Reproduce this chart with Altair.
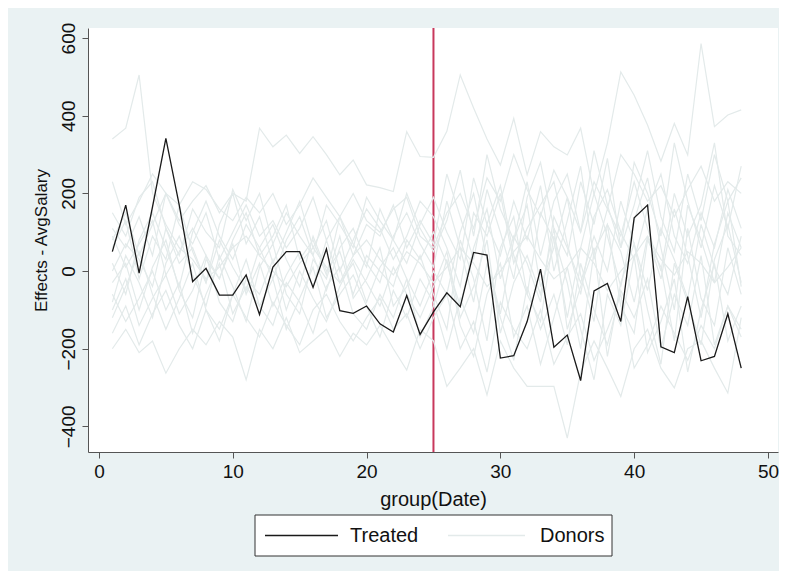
import altair as alt
import pandas as pd

dates = list(range(1, 49))
event_date = [25]

treated = [50, 170, -5, 165, 342, 170, -27, 7, -62, -62, -10, -112,
           10, 50, 50, -42, 57, -102, -109, -90, -136, -157, -63, -163,
           -105, -56, -92, 48, 41, -224, -218, -130, 5, -196, -165, -282,
           -51, -32, -130, 137, 170, -195, -210, -66, -231, -220, -110, -250]

donors = [
    [340, 368, 505, 200, 120, 60, 30, -20, 10, 60, 90, 40, 0, -40, 20, 60,
     10, -30, 40, 80, 30, -10, 50, 20, -30, 10, 60, 20, -40, 0, 50, 90,
     30, -20, 10, 60, 20, -50, 0, 40, 90, 30, -10, 50, 20, -30, 10, 60],
    [80, 150, 40, 120, 200, 130, 180, 220, 150, 200, 180, 368, 320, 350, 303, 346,
     300, 248, 286, 222, 215, 205, 359, 295, 293, 360, 505, 420, 340, 273, 393, 248,
     359, 320, 299, 368, 197, 330, 513, 453, 376, 283, 380, 299, 586, 372, 402, 415],
    [-200, -150, -210, -180, -263, -200, -150, -190, -130, -170, -280, -150, -200, -120, -210, -180,
     -150, -220, -160, -190, -140, -200, -255, -150, -180, -297, -250, -200, -319, -180, -250, -297,
     -297, -297, -430, -260, -180, -250, -323, -200, -150, -250, -301, -200, -180, -250, -314, -120],
    [20, -60, 80, 150, 60, -40, 100, 180, 90, 30, 120, 60, -20, 80, 140, 40,
     -50, 60, 110, 20, -30, 90, 150, 70, 10, 180, 60, -80, 120, 220, 40, -60,
     150, 80, -120, 60, 200, 90, -40, 130, 240, 60, -100, 170, 80, -30, 150, 60],
    [-80, 40, -30, -120, 20, 90, -10, -90, 40, -40, -130, 10, 70, -60, -110, 30,
     -20, 90, -70, -20, 60, -90, -40, 40, -60, -150, 80, -20, -180, 60, 140, -60,
     -130, 90, -30, -200, 50, 120, -90, -160, 80, 10, -180, 110, -70, -140, 60, -60],
    [110, 60, 140, 40, 200, 120, 70, 150, 30, 100, 170, 90, 130, 60, 110, 190,
     80, 140, 40, 120, 90, 170, 60, 130, 70, 250, 140, 30, 210, 100, -20, 190,
     280, 110, 40, 230, 120, 290, 60, 170, 310, 140, 50, 250, 130, 300, 180, 240],
    [-120, -40, 50, -60, -150, -70, 20, -100, -180, -60, 30, -90, -140, -30, -80, -160,
     -40, 10, -110, -150, -60, -120, -20, -170, -90, 30, -140, -220, -60, 20, -170, -90,
     -240, -120, 10, -150, -280, -60, -140, 40, -210, -130, -20, -260, -100, 20, -180, -90],
    [60, 130, -20, 90, 30, 170, 50, -30, 120, 200, 70, 140, 20, 100, 180, 60,
     130, 0, 80, 160, 110, 30, 90, 180, 140, 60, -40, 150, 90, 200, 20, 110,
     170, 230, 70, -60, 140, 210, 100, 30, 160, 250, 90, 20, 150, 60, 210, 110],
    [-30, 20, -100, 10, 80, -50, -120, 30, -20, 70, -60, 20, -90, -10, 50, -40,
     80, -30, 20, -80, 10, 60, -20, -90, 0, -60, 100, 200, 30, -110, 80, 170,
     -40, 60, 190, -10, -130, 120, 50, -80, 90, -20, 160, 40, -120, 70, 180, -40],
    [150, 90, 190, 230, 110, 40, 160, 100, 60, 210, 130, 200, 70, 150, 90, 40,
     170, 120, 60, 190, 130, 80, 200, 110, 50, 130, 260, 90, 300, 160, 80, 230,
     40, 180, 250, 100, 310, 170, 60, 280, 200, 90, 330, 180, 60, 220, 110, 270],
    [-160, -90, -190, -110, -50, -140, -200, -100, -150, -60, -120, -170, -80, -140, -190, -100,
     -60, -130, -180, -120, -70, -150, -110, -200, -120, -60, -200, -130, -260, -80, -150, -200,
     -100, -240, -170, -110, -230, -150, -60, -250, -190, -90, -160, -230, -140, -200, -90, -170],
    [0, 70, 30, -40, 110, 20, 60, -30, 80, 10, -50, 60, 120, 30, -40, 90,
     0, 50, -60, 40, 0, -40, 80, 30, 100, 20, -90, 60, 160, -20, 90, 20,
     -80, 140, 60, -30, 90, 0, 180, 70, -50, 110, 30, -70, 120, 10, -60, 90],
    [-60, -130, -70, 0, -100, -30, -160, -60, 20, -110, -40, -90, -20, -150, -70, 10,
     -120, -60, -10, -90, -170, -50, -120, -20, -80, -200, -70, -160, 20, -120, -230, -40,
     -150, -60, -190, 20, -100, -190, -50, -120, -20, -200, -60, -140, 40, -190, -90, -150],
    [90, 10, 70, 130, -10, 50, 110, 40, -20, 80, 150, 40, 90, 170, 30, 80,
     -10, 140, 70, 10, 160, 80, 20, 120, 190, 100, 30, 240, 120, 40, 180, 80,
     220, 0, 130, 270, 30, 160, 90, 230, 110, 0, 200, 90, 170, 330, 90, 40],
    [-100, -20, -140, -70, -10, -110, -50, 40, -80, -130, -20, -60, 30, -100, 0, -70,
     -130, -40, 30, -30, -90, 10, -60, -120, -40, 50, -120, -40, 80, -160, -30, 40,
     -60, 110, -150, -40, 60, -220, -30, 70, -100, -240, 20, -80, -190, 30, 120, -30],
    [230, 120, 180, 250, 200, 170, 230, 210, 160, 130, 190, 150, 200, 120, 170, 240,
     190, 140, 200, 130, 100, 160, 190, 90, 60, 150, 200, 110, 240, 180, 300, 210,
     140, 260, 190, 100, 230, 160, 300, 250, 180, 220, 140, 210, 270, 180, 230, 200],
]

x_ticks = [0, 10, 20, 30, 40, 50]
y_ticks = [-400, -200, 0, 200, 400, 600]
series_names = ["Treated", "Donors"]
series_colors = ["#1a1a1a", "#E3EAEA"]

rows = []
for i, d in enumerate(donors):
    for x, v in zip(dates, d):
        rows.append({"date": x, "value": v, "unit": f"donor{i}", "group": series_names[1]})
donor_df = pd.DataFrame(rows)
treated_df = pd.DataFrame({"date": dates, "value": treated, "unit": "treated",
                           "group": series_names[0]})
event_df = pd.DataFrame({"date": event_date})

FONT = "Liberation Sans"

xscale = alt.Scale(domain=[-0.82, 50.75], nice=False, zero=False)
yscale = alt.Scale(domain=[-466, 626], nice=False, zero=False)

xenc = alt.X("date:Q", scale=xscale, title="group(Date)",
             axis=alt.Axis(values=x_ticks, format="d", grid=False, labelFontSize=19,
                           titleFontSize=20))
yenc = alt.Y("value:Q", scale=yscale, title="Effects - AvgSalary",
             axis=alt.Axis(values=y_ticks, format="d", grid=False, labelAngle=270,
                           labelAlign="center", labelBaseline="bottom",
                           labelFontSize=19, titleFontSize=17, titlePadding=9))

rule = alt.Chart(event_df).mark_rule(color="#C8385C", strokeWidth=2).encode(
    x=alt.X("date:Q", scale=xscale))

donor_lines = alt.Chart(donor_df).mark_line(strokeWidth=1.2, color=series_colors[1]).encode(
    x=xenc, y=yenc, detail="unit:N")

treated_line = alt.Chart(treated_df).mark_line(strokeWidth=1.3, color=series_colors[0]).encode(
    x=xenc, y=yenc, detail="unit:N")

# legend box (drawn as decoration below the plot)
one = pd.DataFrame({"k": [0]})
legend_box = alt.Chart(one).mark_rect(fill="white", stroke="#333", strokeWidth=1).encode(
    x=alt.value(167), x2=alt.value(524), y=alt.value(487), y2=alt.value(528))
leg_t_line = alt.Chart(one).mark_rule(color=series_colors[0], strokeWidth=1.3).encode(
    x=alt.value(177), x2=alt.value(250), y=alt.value(507.5))
leg_d_line = alt.Chart(one).mark_rule(color=series_colors[1], strokeWidth=1.3).encode(
    x=alt.value(360), x2=alt.value(437), y=alt.value(507.5))
leg_t_text = alt.Chart(one).mark_text(text=series_names[0], font=FONT, fontSize=20,
                                      color="#111", align="left", baseline="middle").encode(
    x=alt.value(262), y=alt.value(508))
leg_d_text = alt.Chart(one).mark_text(text=series_names[1], font=FONT, fontSize=20,
                                      color="#111", align="left", baseline="middle").encode(
    x=alt.value(452), y=alt.value(508))

chart = alt.layer(rule, donor_lines, treated_line, legend_box, leg_t_line, leg_d_line,
                  leg_t_text, leg_d_text).properties(
    width=690, height=424,
    autosize=alt.AutoSizeParams(type="none"),
    padding={"left": 80, "top": 20, "right": 1, "bottom": 119},
    background="#EAF2F3",
).configure_view(fill="white", stroke=None).configure_axis(
    domainColor="#555", tickColor="#555", tickSize=6, labelFont=FONT, titleFont=FONT,
    labelColor="#111", titleColor="#111",
    titleFontWeight="normal", labelPadding=4, titlePadding=8
)

chart.save("out.html", embed_options={"renderer": "svg", "actions": False})
